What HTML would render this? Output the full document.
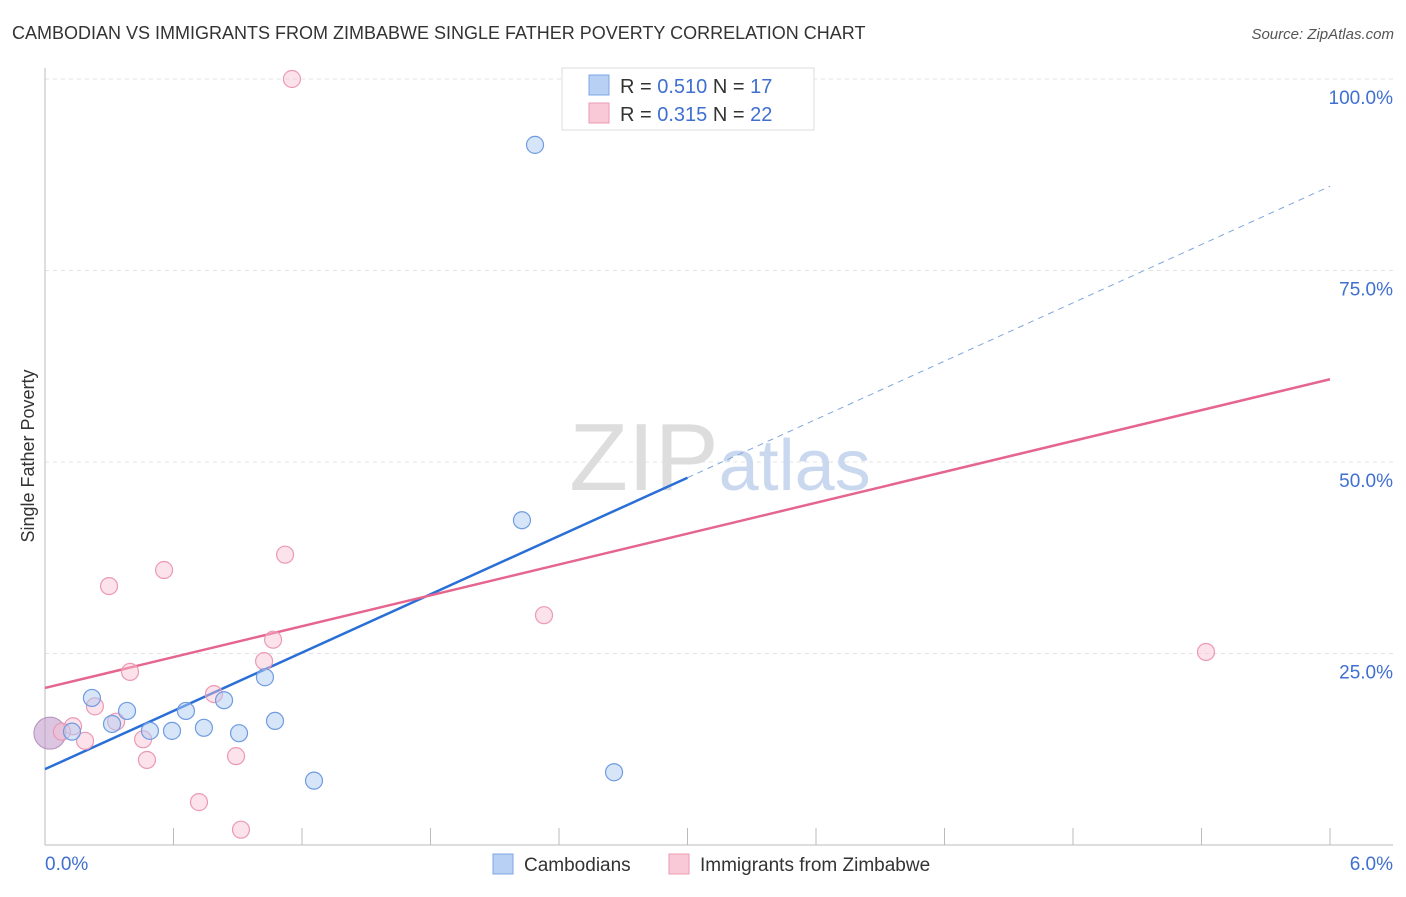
<!DOCTYPE html>
<html><head><meta charset="utf-8"><style>
body{margin:0;background:#fff;font-family:"Liberation Sans",sans-serif;}
svg text{font-family:"Liberation Sans",sans-serif;}
</style></head><body>
<svg width="1406" height="892" xmlns="http://www.w3.org/2000/svg">
<text x="12" y="39" font-size="18" fill="#333">CAMBODIAN VS IMMIGRANTS FROM ZIMBABWE SINGLE FATHER POVERTY CORRELATION CHART</text>
<text x="1394" y="39" font-size="15" fill="#555" font-style="italic" text-anchor="end">Source: ZipAtlas.com</text>
<g id="grid"></g>
<text x="720" y="490" font-size="96" fill="#ddd" text-anchor="middle" font-family="Liberation Serif">ZIP<tspan fill="#c9d8ef" font-family="Liberation Sans" font-size="72">atlas</tspan></text>
<g id="axes"></g>
<g id="lines"></g>
<g id="pts"></g>
<text transform="translate(34,456) rotate(-90)" font-size="18" fill="#333" text-anchor="middle">Single Father Poverty</text>
<text x="45" y="870" font-size="19" fill="#3f6fd0">0.0%</text>
<text x="1393" y="870" font-size="19" fill="#3f6fd0" text-anchor="end">6.0%</text>
<g>
<rect x="562" y="68" width="252" height="62" fill="#fff" stroke="#ddd"/>
<rect x="589" y="75" width="20" height="20" fill="#b7d0f3" stroke="#7ea6e6"/>
<rect x="589" y="103" width="20" height="20" fill="#f9c9d7" stroke="#ec9ab3"/>
<text x="620" y="93" font-size="20" fill="#333">R = <tspan fill="#3f6fd0">0.510</tspan>   N = <tspan fill="#3f6fd0">17</tspan></text>
<text x="620" y="121" font-size="20" fill="#333">R = <tspan fill="#3f6fd0">0.315</tspan>   N = <tspan fill="#3f6fd0">22</tspan></text>
</g>
<g>
<rect x="493" y="854" width="20" height="20" fill="#b7d0f3" stroke="#7ea6e6"/>
<text x="524" y="871" font-size="19" fill="#333">Cambodians</text>
<rect x="669" y="854" width="20" height="20" fill="#f9c9d7" stroke="#ec9ab3"/>
<text x="700" y="871" font-size="19" fill="#333">Immigrants from Zimbabwe</text>
</g>
</svg>
<script>
const yTicks=[25,50,75,100];
const yTickLabels=["25.0%","50.0%","75.0%","100.0%"];
const blueX=[2.288,2.227,0.219,0.383,0.313,0.490,0.593,0.658,0.742,0.836,0.906,1.027,1.074,1.256,2.657,0.126];
const blueY=[91.4,42.4,19.2,17.5,15.8,14.9,14.9,17.5,15.3,18.9,14.6,21.9,16.2,8.4,9.5,14.8];
const pinkX=[1.153,2.540,0.556,0.299,1.121,2.330,5.421,1.065,1.023,0.397,0.789,0.233,0.332,0.131,0.187,0.458,0.476,0.892,0.719,0.915,0.079];
const pinkY=[100,100,35.9,33.8,37.9,30.0,25.2,26.8,24.0,22.6,19.7,18.1,16.1,15.5,13.6,13.8,11.1,11.6,5.6,2.0,14.8];
const bigPoint=[0.023,14.6];
const blueTrend=[9.9,86.0];
const pinkTrend=[20.5,60.8];
const blueSolidEnd=3.0;
const NS="http://www.w3.org/2000/svg";
const sx=v=>45+v/6*1285, sy=v=>845-v/100*766;
function mk(t,a,p){const e=document.createElementNS(NS,t);for(const k in a)e.setAttribute(k,a[k]);document.getElementById(p).appendChild(e);return e;}
yTicks.forEach((t,i)=>{
 const l=mk('line',{x1:45,x2:1393,y1:sy(t),y2:sy(t),stroke:'#e3e3e3','stroke-dasharray':'4,4'},'grid');
 
 
 const tx=mk('text',{x:1393,y:sy(t)+25,'font-size':19,fill:'#3f6fd0','text-anchor':'end'},'grid');
 tx.textContent=yTickLabels[i];
 
 
});
let a=mk('line',{x1:45,x2:45,y1:68,y2:845,stroke:'#bbb'},'axes');


a=mk('line',{x1:45,x2:1393,y1:845,y2:845,stroke:'#bbb'},'axes');


for(let i=1;i<=10;i++){const t=mk('line',{x1:sx(i*0.6),x2:sx(i*0.6),y1:828,y2:845,stroke:'#bbb'},'axes');
 
 }
const ty=(tr,x)=>tr[0]+(tr[1]-tr[0])*x/6;
let l=mk('line',{x1:sx(0),y1:sy(ty(blueTrend,0)),x2:sx(blueSolidEnd),y2:sy(ty(blueTrend,blueSolidEnd)),stroke:'#2a6fd6','stroke-width':2.5},'lines');


l=mk('line',{x1:sx(blueSolidEnd),y1:sy(ty(blueTrend,blueSolidEnd)),x2:sx(6),y2:sy(ty(blueTrend,6)),stroke:'#7fa6dc','stroke-width':1,'stroke-dasharray':'6,5'},'lines');


l=mk('line',{x1:sx(0),y1:sy(ty(pinkTrend,0)),x2:sx(6),y2:sy(ty(pinkTrend,6)),stroke:'#e5658f','stroke-width':2.5},'lines');


let b=mk('circle',{cx:sx(bigPoint[0]),cy:sy(bigPoint[1]),r:16,fill:'rgba(190,150,200,0.55)',stroke:'#b58fbf'},'pts');


pinkX.forEach((x,i)=>{const c=mk('circle',{cx:sx(x),cy:sy(pinkY[i]),r:8.5,fill:'rgba(248,190,208,0.45)',stroke:'#eb9ab3','stroke-width':1.2},'pts');
 
 });
blueX.forEach((x,i)=>{const c=mk('circle',{cx:sx(x),cy:sy(blueY[i]),r:8.5,fill:'rgba(175,203,243,0.5)',stroke:'#6f9be0','stroke-width':1.2},'pts');
 
 });
</script>
</body></html>
